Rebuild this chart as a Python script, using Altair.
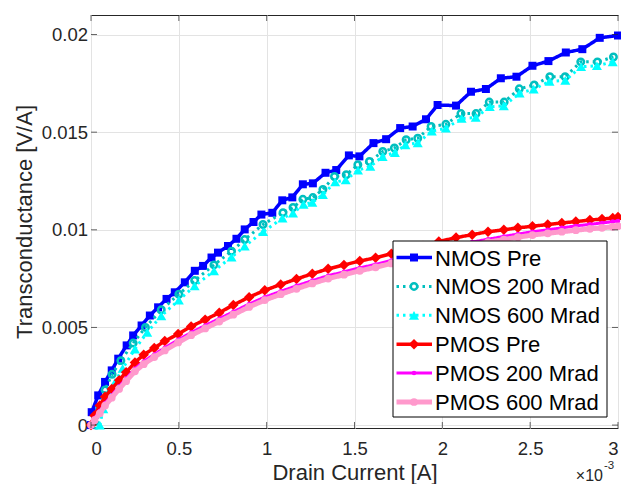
import altair as alt
import pandas as pd

# Drain current in units of 1e-3 A, transconductance in units of 1e-3 V/A
nmos_pre_x = [0.0, 0.004, 0.041, 0.080, 0.118, 0.155, 0.203, 0.240, 0.288, 0.335, 0.382, 0.430, 0.477, 0.534,
              0.591, 0.638, 0.686, 0.723, 0.780, 0.828, 0.875, 0.925, 0.970, 1.032, 1.089, 1.146, 1.206, 1.263,
              1.335, 1.396, 1.468, 1.528, 1.608, 1.680, 1.760, 1.831, 1.907, 1.973, 2.078, 2.163, 2.248, 2.333,
              2.422, 2.513, 2.604, 2.703, 2.797, 2.896, 3.000]
nmos_pre_y = [0.0, 0.66, 1.52, 2.21, 2.80, 3.40, 4.08, 4.59, 5.10, 5.61, 6.03, 6.46, 6.80, 7.31,
              7.90, 8.15, 8.58, 8.83, 9.17, 9.54, 10.02, 10.40, 10.78, 10.87, 11.51, 11.66, 12.33, 12.38,
              12.92, 13.06, 13.81, 13.76, 14.44, 14.64, 15.21, 15.29, 15.66, 16.39, 16.36, 17.07, 17.21, 17.76,
              17.84, 18.40, 18.64, 19.08, 19.25, 19.83, 19.95]

nmos_200_x = [0.03, 0.05, 0.08, 0.12, 0.17, 0.24, 0.31, 0.40, 0.50, 0.59, 0.70, 0.80, 0.875, 0.979,
              1.093, 1.150, 1.206, 1.263, 1.320, 1.386, 1.453, 1.519, 1.585, 1.661, 1.727, 1.794, 1.860,
              1.936, 2.020, 2.106, 2.192, 2.267, 2.352, 2.438, 2.523, 2.612, 2.699, 2.788, 2.883, 2.974]
nmos_200_y = [0.0, 0.9, 1.8, 2.6, 3.3, 4.2, 5.0, 5.9, 6.7, 7.4, 8.2, 8.9, 9.5, 10.27,
              10.88, 11.14, 11.56, 11.65, 12.07, 12.73, 12.82, 13.33, 13.50, 14.01, 14.19, 14.61, 14.69,
              15.29, 15.40, 15.95, 15.95, 16.54, 16.54, 17.22, 17.42, 17.84, 17.84, 18.60, 18.60, 18.85]

nmos_600_x = [0.05, 0.07, 0.10, 0.136, 0.18, 0.25, 0.32, 0.40, 0.50, 0.59, 0.70, 0.80, 0.875, 0.98,
              1.09, 1.15, 1.21, 1.26, 1.32, 1.39, 1.45, 1.52, 1.59, 1.66, 1.73, 1.79, 1.86, 1.94,
              2.02, 2.11, 2.19, 2.27, 2.35, 2.44, 2.52, 2.61, 2.70, 2.79, 2.88, 2.97]
nmos_600_y = [0.0, 0.83, 1.5, 2.19, 2.9, 3.89, 4.75, 5.59, 6.4, 7.12, 7.9, 8.6, 9.16, 9.9,
              10.6, 10.85, 11.3, 11.4, 11.8, 12.45, 12.55, 13.05, 13.25, 13.75, 13.95, 14.35, 14.45, 15.05,
              15.2, 15.7, 15.75, 16.3, 16.35, 17.0, 17.2, 17.6, 17.65, 18.35, 18.4, 18.6]

pmos_x = [0.0, 0.02, 0.05, 0.08, 0.118, 0.16, 0.20, 0.25, 0.30, 0.36, 0.42, 0.496, 0.57, 0.65,
          0.73, 0.81, 0.90, 0.989, 1.08, 1.17, 1.26, 1.35, 1.44, 1.53, 1.62, 1.71, 1.80, 1.89,
          1.98, 2.078, 2.17, 2.26, 2.35, 2.43, 2.513, 2.60, 2.68, 2.76, 2.84, 2.909, 2.97, 3.0]
pmos_pre_y = [0.0, 0.49, 1.0, 1.45, 1.85, 2.3, 2.7, 3.21, 3.6, 3.95, 4.3, 4.66, 5.05, 5.4,
              5.75, 6.15, 6.55, 6.9, 7.2, 7.48, 7.75, 8.0, 8.2, 8.4, 8.57, 8.77, 8.97, 9.17,
              9.4, 9.6, 9.75, 9.9, 10.0, 10.1, 10.18, 10.27, 10.35, 10.42, 10.5, 10.55, 10.6, 10.65]
pmos_200_y = [0.0, 0.35, 0.72, 1.12, 1.52, 1.98, 2.38, 2.88, 3.26, 3.62, 3.96, 4.37, 4.74, 5.1,
              5.45, 5.8, 6.2, 6.55, 6.85, 7.13, 7.4, 7.65, 7.85, 8.05, 8.23, 8.43, 8.62, 8.8,
              9.0, 9.2, 9.37, 9.52, 9.66, 9.78, 9.9, 10.0, 10.1, 10.2, 10.28, 10.35, 10.42, 10.45]
pmos_600_y = [0.0, 0.25, 0.6, 1.0, 1.4, 1.85, 2.25, 2.75, 3.12, 3.48, 3.82, 4.23, 4.6, 4.95,
              5.3, 5.65, 6.05, 6.4, 6.7, 6.98, 7.25, 7.5, 7.7, 7.9, 8.08, 8.28, 8.47, 8.65,
              8.88, 9.06, 9.22, 9.37, 9.5, 9.62, 9.73, 9.82, 9.9, 9.98, 10.05, 10.1, 10.15, 10.18]

series_names = ["NMOS Pre", "NMOS 200 Mrad", "NMOS 600 Mrad", "PMOS Pre", "PMOS 200 Mrad", "PMOS 600 Mrad"]
series_x = [nmos_pre_x, nmos_200_x, nmos_600_x, pmos_x, pmos_x, pmos_x]
series_y = [nmos_pre_y, nmos_200_y, nmos_600_y, pmos_pre_y, pmos_200_y, pmos_600_y]

x_ticks = [0, 0.5, 1, 1.5, 2, 2.5, 3]
y_ticks = [0, 0.005, 0.01, 0.015, 0.02]
Y_UNIT = 1e-3

# styles (not data)
styles = [
    dict(color="#0000ff", dash=[1, 0], width=3.5, shape="square", size=64, filled=True, sw=1),
    dict(color="#00bfbf", dash=[2.5, 4], width=3, shape="circle", size=42, filled=False, sw=2.5),
    dict(color="#00ffff", dash=[2.5, 4], width=3, shape="triangle-up", size=100, filled=True, sw=1),
    dict(color="#ff0000", dash=[1, 0], width=3.5, shape="diamond", size=110, filled=True, sw=1),
    dict(color="#ff00ff", dash=[1, 0], width=3, shape="circle", size=20, filled=True, sw=1),
    dict(color="#ff99cc", dash=[1, 0], width=5, shape="circle", size=60, filled=True, sw=1),
]

FONT = "Liberation Sans"
LABEL_SIZE = 18.5
W, H = 527, 413
x_scale = alt.Scale(domain=[0, 3], nice=False, zero=False)
y_scale = alt.Scale(domain=[-0.00015, 0.021], nice=False, zero=False)

common_axis = dict(grid=True, domain=False, ticks=False, format="~g",
                   labelFont=FONT, labelFontSize=LABEL_SIZE, labelColor="#262626",
                   titleFont=FONT, titleFontSize=22, titleFontWeight="normal", titleColor="#262626",
                   gridColor="#e3e3e3", gridWidth=1, titleAlign="center")
x_axis = alt.Axis(values=x_ticks, title="Drain Current [A]", labelPadding=11,
                  titleX=263.5, titleY=51.5, titleBaseline="alphabetic", titleAngle=0, **common_axis)
y_axis = alt.Axis(values=y_ticks, title="Transconductance [V/A]", labelPadding=3.5,
                  titleX=-67, titleY=206.5, titleAngle=270, titleBaseline="middle", **common_axis)

X = lambda f: alt.X(f, scale=x_scale, axis=x_axis)
Y = lambda f: alt.Y(f, scale=y_scale, axis=y_axis)

layers = []
for name, xs, ys, st in zip(series_names, series_x, series_y, styles):
    df = pd.DataFrame({"x": xs, "y": [v * Y_UNIT for v in ys], "i": list(range(len(xs))), "s": name})
    base = alt.Chart(df)
    layers.append(base.mark_line(color=st["color"], strokeWidth=st["width"], strokeDash=st["dash"],
                                 strokeCap="butt", strokeJoin="round", clip=True)
                  .encode(x=X("x:Q"), y=Y("y:Q"), order="i:Q"))
    layers.append(base.mark_point(shape=st["shape"], size=st["size"], filled=st["filled"], color=st["color"],
                                  strokeWidth=st["sw"], opacity=1)
                  .encode(x=X("x:Q"), y=Y("y:Q")))

# inner tick marks (MATLAB box style)
xt = alt.Chart(pd.DataFrame({"v": x_ticks}))
yt = alt.Chart(pd.DataFrame({"v": y_ticks}))
tick_style = dict(size=6, thickness=1, color="#262626")
layers += [
    xt.mark_tick(orient="vertical", **tick_style).encode(x=X("v:Q"), y=alt.value(H - 3)),
    xt.mark_tick(orient="vertical", **tick_style).encode(x=X("v:Q"), y=alt.value(3)),
    yt.mark_tick(orient="horizontal", **tick_style).encode(y=Y("v:Q"), x=alt.value(3)),
    yt.mark_tick(orient="horizontal", **tick_style).encode(y=Y("v:Q"), x=alt.value(W - 3)),
]

one = alt.Chart(pd.DataFrame({"a": [0]}))
# exponent label
layers.append(one.mark_text(text="\u00d710", font=FONT, fontSize=16, align="right", baseline="alphabetic",
                            color="#262626").encode(x=alt.value(512), y=alt.value(465.5)))
layers.append(one.mark_text(text="-3", font=FONT, fontSize=11.5, align="left", baseline="alphabetic",
                            color="#262626").encode(x=alt.value(513), y=alt.value(454)))

# legend
layers.append(one.mark_rect(fill="white", stroke="black", strokeWidth=1)
              .encode(x=alt.value(302), x2=alt.value(516), y=alt.value(226), y2=alt.value(402)))
for k, (name, st) in enumerate(zip(series_names, styles)):
    ly = 242.5 + 28.9 * k
    layers.append(one.mark_rule(color=st["color"], strokeWidth=st["width"], strokeDash=st["dash"], strokeCap="butt")
                  .encode(x=alt.value(305.5), x2=alt.value(341), y=alt.value(ly)))
    layers.append(one.mark_point(shape=st["shape"], size=st["size"], filled=st["filled"], color=st["color"],
                                 strokeWidth=st["sw"], opacity=1)
                  .encode(x=alt.value(323), y=alt.value(ly)))
    layers.append(one.mark_text(text=name, font=FONT, fontSize=22, align="left", baseline="middle", color="black")
                  .encode(x=alt.value(344), y=alt.value(ly + 1)))

chart = alt.layer(*layers).properties(
    width=W, height=H,
    padding={"left": 91, "top": 15, "right": 3, "bottom": 56},
    autosize=alt.AutoSizeParams(type="none"),
    background="white",
).configure_view(stroke="#262626", strokeWidth=1)

chart.save("out.html", embed_options={"renderer": "svg", "actions": False})
